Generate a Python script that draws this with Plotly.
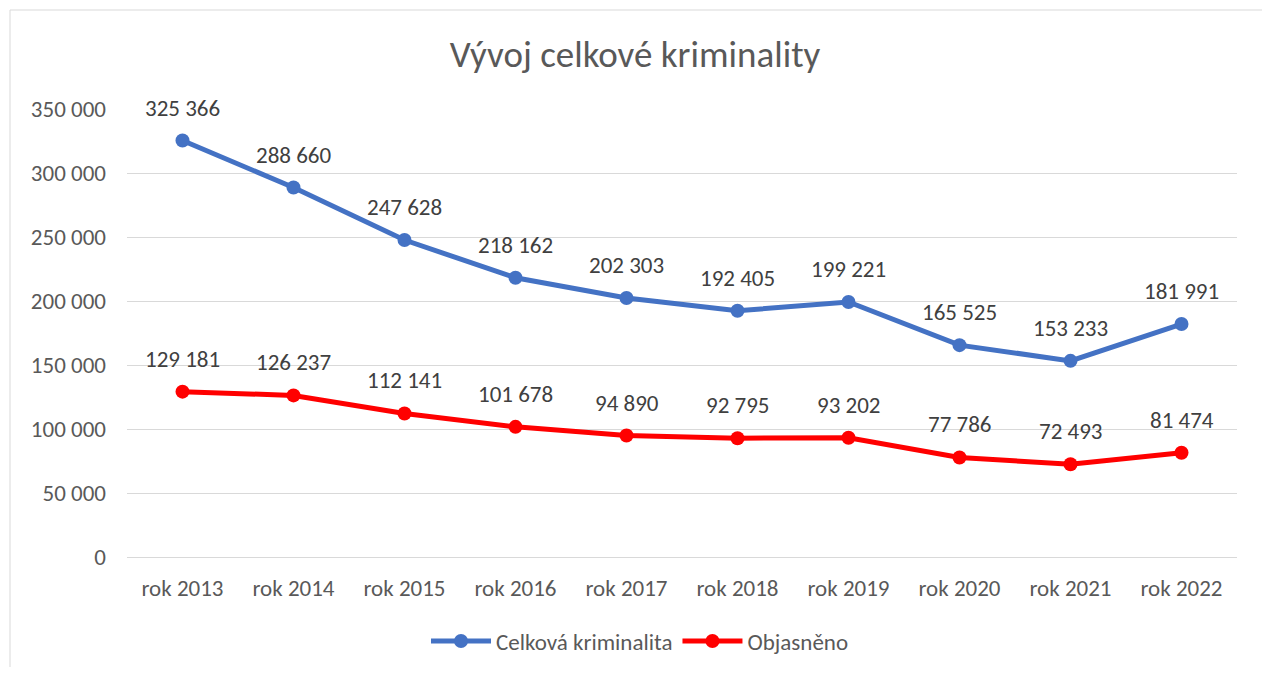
import plotly.graph_objects as go

categories = ["rok 2013", "rok 2014", "rok 2015", "rok 2016", "rok 2017",
              "rok 2018", "rok 2019", "rok 2020", "rok 2021", "rok 2022"]
celkova = [325366, 288660, 247628, 218162, 202303, 192405, 199221, 165525, 153233, 181991]
objasneno = [129181, 126237, 112141, 101678, 94890, 92795, 93202, 77786, 72493, 81474]
y_ticks = [0, 50000, 100000, 150000, 200000, 250000, 300000, 350000]

FONT = "Carlito, Calibri, Lato, sans-serif"

def fmt(v):
    return f"{v:,}".replace(",", " ")

W, H = 1254, 659
L, R, T, B = 119, 25, 101, 110
PW, PH = W - L - R, H - T - B

fig = go.Figure()
fig.add_trace(go.Scatter(x=categories, y=celkova, name="Celková kriminalita",
                         mode="lines+markers",
                         line=dict(color="#4472C4", width=5),
                         marker=dict(color="#4472C4", size=14)))
fig.add_trace(go.Scatter(x=categories, y=objasneno, name="Objasněno",
                         mode="lines+markers",
                         line=dict(color="#FF0000", width=5),
                         marker=dict(color="#FF0000", size=14)))

annotations = []
for series in (celkova, objasneno):
    for c, v in zip(categories, series):
        annotations.append(dict(x=c, y=v, text=fmt(v), showarrow=False,
                                yshift=33, font=dict(family=FONT, size=23, color="#404040")))

fig.update_layout(
    width=W, height=H,
    margin=dict(l=L, r=R, t=T, b=B, autoexpand=False),
    paper_bgcolor="white", plot_bgcolor="white",
    separators=", ",
    title=dict(text="Vývoj celkové kriminality", x=0.5, xanchor="center",
               y=1 - 46 / H, yanchor="middle",
               font=dict(family=FONT, size=37, color="#595959")),
    font=dict(family=FONT, size=23, color="#595959"),
    showlegend=True,
    legend=dict(orientation="h", x=(640 - 8 - L) / PW, xanchor="center",
                y=(549 - 633) / PH, yanchor="middle",
                font=dict(family=FONT, size=23, color="#595959"),
                itemwidth=60, tracegroupgap=0),
    annotations=annotations,
    shapes=[dict(type="rect", xref="paper", yref="paper",
                 x0=(2 - L) / PW, x1=(1255 - L) / PW,
                 y0=(549 - 700) / PH, y1=(549 - 2) / PH,
                 line=dict(color="#D9D9D9", width=1), layer="below")],
)
fig.update_xaxes(showgrid=False, showline=True, linecolor="#D9D9D9", linewidth=1,
                 ticks="", ticklabelstandoff=10,
                 tickfont=dict(family=FONT, size=23, color="#595959"),
                 range=[-0.5, 9.5], fixedrange=True)
fig.update_yaxes(range=[0, 350000], tickvals=y_ticks, tickformat=",d",
                 showgrid=True, gridcolor="#D9D9D9", gridwidth=1, zeroline=False,
                 ticks="", ticklabelstandoff=20,
                 tickfont=dict(family=FONT, size=23, color="#595959"), fixedrange=True)

fig.write_html("out.html")
